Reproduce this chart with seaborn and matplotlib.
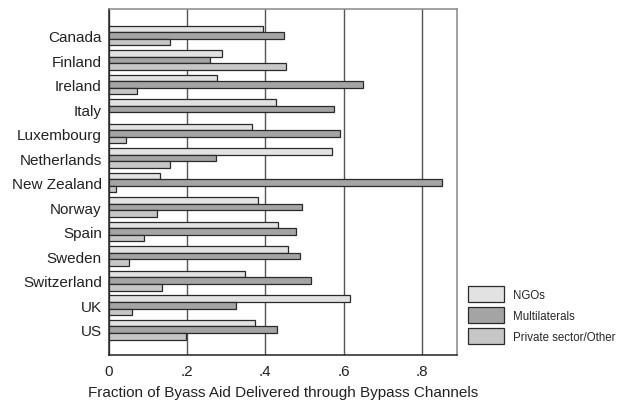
import numpy as np
import pandas as pd
import matplotlib
matplotlib.use("Agg")
import matplotlib.pyplot as plt
from matplotlib.patches import Patch
import seaborn as sns

# values
countries = ["Canada", "Finland", "Ireland", "Italy", "Luxembourg", "Netherlands",
             "New Zealand", "Norway", "Spain", "Sweden", "Switzerland", "UK", "US"]
ngos = [0.395, 0.288, 0.277, 0.427, 0.366, 0.569, 0.130, 0.382, 0.431, 0.458, 0.347, 0.615, 0.373]
multilaterals = [0.448, 0.258, 0.649, 0.574, 0.591, 0.275, 0.851, 0.494, 0.479, 0.489, 0.517, 0.326, 0.430]
private = [0.157, 0.453, 0.073, 0.0, 0.043, 0.156, 0.018, 0.124, 0.090, 0.052, 0.135, 0.060, 0.196]
channels = ["NGOs", "Multilaterals", "Private sector/Other"]
colors = ["#e2e2e2", "#a4a4a4", "#c6c6c6"]

df = pd.DataFrame({
    "country": countries * 3,
    "channel": [channels[0]] * 13 + [channels[1]] * 13 + [channels[2]] * 13,
    "value": ngos + multilaterals + private,
})

sns.set_style("white")
plt.rcParams["font.family"] = ["Liberation Sans", "DejaVu Sans"]

fig, ax = plt.subplots(figsize=(6.18, 4.02), dpi=100)
fig.subplots_adjust(left=0.176, right=0.74, top=0.975, bottom=0.115)

sns.barplot(data=df, y="country", x="value", hue="channel", order=countries,
            hue_order=channels, palette=colors, orient="h", width=0.8,
            edgecolor="#2a2a2a", linewidth=0.9, ax=ax, zorder=3, legend=False)

# hide zero-length bar outline (Italy private)
for p in ax.patches:
    if p.get_width() == 0:
        p.set_visible(False)

ax.set_xlim(0, 0.89)
ax.set_ylim(13.02, -1.08)
ax.set_xticks([0, 0.2, 0.4, 0.6, 0.8])
ax.set_xticklabels(["0", ".2", ".4", ".6", ".8"])
ax.xaxis.grid(True, color="#555555", linewidth=1.0, zorder=0)
ax.set_axisbelow(True)
ax.tick_params(axis="both", length=0, labelsize=11, colors="#222222", pad=5)
ax.tick_params(axis="x", pad=7)
ax.set_xlabel("Fraction of Byass Aid Delivered through Bypass Channels",
              fontsize=11, color="#222222", labelpad=5)
ax.set_ylabel("")

for side in ["left", "bottom"]:
    ax.spines[side].set_color("#222222")
    ax.spines[side].set_linewidth(1.1)
for side in ["top", "right"]:
    ax.spines[side].set_color("#888888")
    ax.spines[side].set_linewidth(1.1)

handles = [Patch(facecolor=c, edgecolor="#2a2a2a", linewidth=0.9) for c in colors]
ax.legend(handles, channels, loc="lower left", bbox_to_anchor=(1.031, 0.03),
          frameon=False, fontsize=8.3, handlelength=3.1, handleheight=1.75,
          labelspacing=0.45, handletextpad=0.8, borderpad=0, borderaxespad=0)

fig.savefig("out.png", dpi=100)
